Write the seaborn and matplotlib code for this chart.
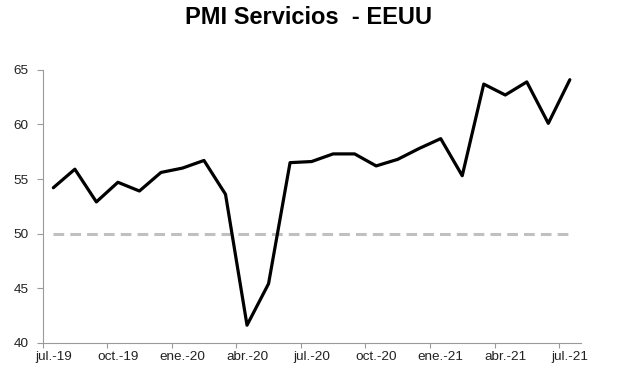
import matplotlib
matplotlib.use("Agg")
import matplotlib.pyplot as plt
import seaborn as sns
import pandas as pd
import numpy as np

meses = ["jul.-19", "ago.-19", "sep.-19", "oct.-19", "nov.-19", "dic.-19",
         "ene.-20", "feb.-20", "mar.-20", "abr.-20", "may.-20", "jun.-20",
         "jul.-20", "ago.-20", "sep.-20", "oct.-20", "nov.-20", "dic.-20",
         "ene.-21", "feb.-21", "mar.-21", "abr.-21", "may.-21", "jun.-21",
         "jul.-21"]
pmi = [54.2, 55.9, 52.9, 54.7, 53.9, 55.6, 56.0, 56.7, 53.6, 41.6, 45.4, 56.5,
       56.6, 57.3, 57.3, 56.2, 56.8, 57.8, 58.7, 55.3, 63.7, 62.7, 63.9, 60.1,
       64.1]
umbral = [50.0] * len(meses)
tick_labels = ["jul.-19", "oct.-19", "ene.-20", "abr.-20", "jul.-20",
               "oct.-20", "ene.-21", "abr.-21", "jul.-21"]

df = pd.DataFrame({"pos": np.arange(len(meses)), "mes": meses,
                   "pmi": pmi, "umbral": umbral})

sns.set_theme(style="white")
plt.rcParams["font.family"] = ["Liberation Sans", "DejaVu Sans"]

fig = plt.figure(figsize=(6.17, 3.82), dpi=100)
ax = fig.add_axes([0.069, 0.103, 0.872, 0.714])

sns.lineplot(data=df, x="pos", y="umbral", ax=ax, color="#c0c0c0",
             linewidth=2.2, linestyle=(0, (3.5, 2)))
sns.lineplot(data=df, x="pos", y="pmi", ax=ax, color="black", linewidth=2.3)

ax.set_xlim(-0.5, len(meses) - 0.5)
ax.set_ylim(40, 65)
ax.set_yticks([40, 45, 50, 55, 60, 65])
label_pos = [meses.index(t) for t in tick_labels]
ax.set_xticks([p - 0.5 for p in label_pos])
ax.set_xticklabels([""] * len(label_pos))
ax.set_xticks(label_pos, minor=True)
ax.set_xticklabels(tick_labels, minor=True)
ax.set_xlabel("")
ax.set_ylabel("")

for s in ["top", "right"]:
    ax.spines[s].set_visible(False)
for s in ["left", "bottom"]:
    ax.spines[s].set_color("#9a9a9a")
    ax.spines[s].set_linewidth(0.8)
ax.tick_params(axis="x", which="major", direction="out", length=3.5,
               width=0.8, color="#9a9a9a", bottom=True)
ax.tick_params(axis="x", which="minor", length=0, bottom=True,
               labelsize=9.7, labelcolor="#222222", pad=6)
ax.tick_params(axis="y", which="major", direction="out", length=4,
               width=0.8, color="#9a9a9a", left=True, labelsize=9.7,
               labelcolor="#222222", pad=6)

fig.suptitle("PMI Servicios  - EEUU", x=0.5, y=0.985, fontsize=17,
             fontweight="bold", color="black")

fig.savefig("out.png", dpi=100)
